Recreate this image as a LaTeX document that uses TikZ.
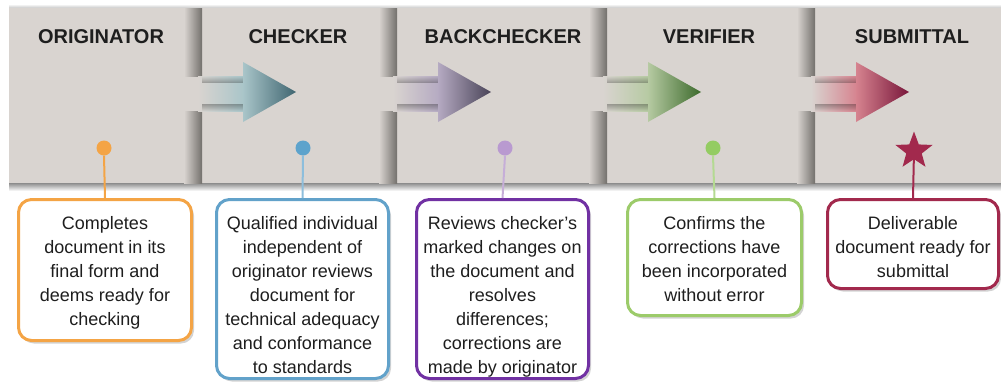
\documentclass[tikz,border=0pt]{standalone}
\usepackage{fontspec}
\setmainfont{Liberation Sans}
\usetikzlibrary{shapes.geometric,shadows,fadings}
\definecolor{panel}{HTML}{D9D4D0}
\definecolor{pshadow}{HTML}{73706C}
\definecolor{txt}{HTML}{1E1E1E}
\definecolor{cOr}{HTML}{F4A445}
\definecolor{cBl}{HTML}{62A2CA}
\definecolor{cBlD}{HTML}{5DA3CC}
\definecolor{cBlL}{HTML}{8DBEDC}
\definecolor{cPu}{HTML}{7131A3}
\definecolor{cPuD}{HTML}{B99AD0}
\definecolor{cPuL}{HTML}{C6AED8}
\definecolor{cGr}{HTML}{9CCB6A}
\definecolor{cGrD}{HTML}{94CC62}
\definecolor{cGrL}{HTML}{B4DA92}
\definecolor{cRe}{HTML}{A2294D}
\definecolor{aChL}{HTML}{A9C5C9}\definecolor{aChD}{HTML}{3F6570}
\definecolor{aBcL}{HTML}{B5AAC2}\definecolor{aBcD}{HTML}{4A4458}
\definecolor{aVeL}{HTML}{B6CAA2}\definecolor{aVeD}{HTML}{3C6A2C}
\definecolor{aSuL}{HTML}{D6838F}\definecolor{aSuD}{HTML}{78163A}
\newcommand\flowarrow[3]{%
  \shade[left color=panel, right color=#2] ({#1-4},76) rectangle ({#1+42},111);
  \fill[black, opacity=.28, path fading=north] (#1,76) rectangle ({#1+41},83);
  \fill[black, opacity=.28, path fading=south] (#1,104) rectangle ({#1+41},111);
  \shade[left color=#2, right color=#3] ({#1+41},62) -- ({#1+94},92) -- ({#1+41},122) -- cycle;
}
\newcommand\panelshadow[1]{%
  \shade[left color=panel, right color=pshadow] ({#1-18},8) rectangle (#1,76);
  \shade[left color=panel, right color=pshadow] ({#1-18},111) rectangle (#1,183);
}
\begin{document}
\begin{tikzpicture}[x=1pt,y=-1pt,
  title/.style={font=\fontsize{20}{24}\selectfont\bfseries, text=txt, inner sep=0pt},
  box/.style={draw, line width=3pt, rounded corners=13pt, fill=white, inner sep=0pt,
    drop shadow={shadow xshift=2.5pt, shadow yshift=-3pt, opacity=0.35}},
  body/.style={font=\fontsize{18}{24}\selectfont, text=txt, align=center, anchor=north, inner sep=0pt},
  link/.style={line width=2pt},
  dot/.style={circle, inner sep=0pt, minimum size=15pt},
]
\useasboundingbox (0,0) rectangle (1001,381);
% band
\shade[top color=white, bottom color=black!22] (9,4) rectangle (1001,8);
\fill[panel] (9,8) rectangle (1001,183);
\shade[top color=black!45, bottom color=white] (9,183) rectangle (1001,191);
\panelshadow{202}
\panelshadow{397}
\panelshadow{607}
\panelshadow{815}
\flowarrow{202}{aChL}{aChD}
\flowarrow{397}{aBcL}{aBcD}
\flowarrow{607}{aVeL}{aVeD}
\flowarrow{815}{aSuL}{aSuD}
% titles
\node[title] (h1) at (101,37) {ORIGINATOR};
\node[title] (h2) at (298,37) {CHECKER};
\node[title] (h3) at (503,37) {BACKCHECKER};
\node[title] (h4) at (709,37) {VERIFIER};
\node[title] (h5) at (912,37) {SUBMITTAL};
% boxes
\node[box, draw=cOr, minimum width=173pt, minimum height=141pt] (b1) at (105,270) {};
\node[box, draw=cBl, minimum width=172pt, minimum height=179pt] (b2) at (302.5,289) {};
\node[box, draw=cPu, minimum width=172pt, minimum height=179pt] (b3) at (502.5,289) {};
\node[box, draw=cGr, minimum width=174pt, minimum height=116pt] (b4) at (714.5,257.5) {};
\node[box, draw=cRe, minimum width=171pt, minimum height=89pt] (b5) at (913,244) {};
% texts
\node[body] (t1) at (105,216) {Completes\\document in its\\final form and\\deems ready for\\checking};
\node[body] (t2) at (302.5,216) {Qualified individual\\independent of\\originator reviews\\document for\\technical adequacy\\and conformance\\to standards};
\node[body] (t3) at (502.5,216) {Reviews checker’s\\marked changes on\\the document and\\resolves\\differences;\\corrections are\\made by originator};
\node[body] (t4) at (714.5,216) {Confirms the\\corrections have\\been incorporated\\without error};
\node[body] (t5) at (913,216) {Deliverable\\document ready for\\submittal};
% markers
\node[dot, fill=cOr] (d1) at (104,148) {};
\node[dot, fill=cBlD] (d2) at (303,148) {};
\node[dot, fill=cPuD] (d3) at (505,148) {};
\node[dot, fill=cGrD] (d4) at (713,148) {};
\node[star, star points=5, star point ratio=2.4, minimum size=39pt, inner sep=0pt, fill=cRe] (d5) at (914,151) {};
% connectors
\draw[link, cOr] (d1.south) -- (b1.north);
\draw[link, cBlL] (d2.south) -- (b2.north);
\draw[link, cPuL] (d3.south) -- (b3.north);
\draw[link, cGrL] (d4.south) -- (b4.north);
\draw[link, cRe] (d5.center) -- (b5.north);
\end{tikzpicture}
\end{document}
